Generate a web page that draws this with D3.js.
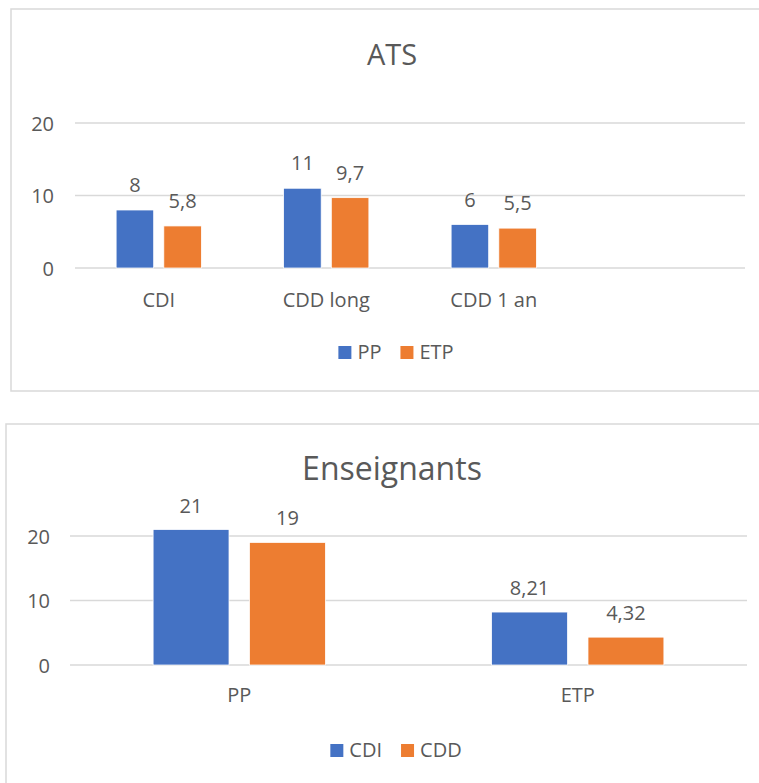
<!DOCTYPE html>
<html>
<head>
<meta charset="utf-8">
<script src="https://cdn.jsdelivr.net/npm/d3@7"></script>
<style>
  html, body { margin: 0; padding: 0; background: #fff; }
  svg { display: block; }
  text { font-family: "Open Sans", "Noto Sans", sans-serif; fill: #595959; }
</style>
</head>
<body>
<svg id="chart" width="759" height="783"></svg>
<script>
// ---- Data ----
const atsTitle = "ATS";
const atsCategories = ["CDI", "CDD long", "CDD 1 an", ""];
const atsSeries = ["PP", "ETP"];
const atsPP = [8, 11, 6];
const atsETP = [5.8, 9.7, 5.5];
const atsTicks = [0, 10, 20];

const ensTitle = "Enseignants";
const ensCategories = ["PP", "ETP"];
const ensSeries = ["CDI", "CDD"];
const ensCDI = [21, 8.21];
const ensCDD = [19, 4.32];
const ensTicks = [0, 10, 20];

const colors = ["#4472C4", "#ED7D31"];
const fmt = v => String(v).replace(".", ",");
const FS = 20;

const svg = d3.select("#chart");

function drawChart(cfg) {
  const g = svg.append("g");
  // frame
  g.append("rect")
    .attr("x", cfg.frame[0]).attr("y", cfg.frame[1])
    .attr("width", cfg.frame[2]).attr("height", cfg.frame[3])
    .attr("fill", "#fff").attr("stroke", "#D9D9D9").attr("stroke-width", 1.5);

  const y = d3.scaleLinear().domain(cfg.yDomain).range([cfg.y0, cfg.y0 - cfg.pxPerUnit * cfg.yDomain[1]]);
  const x0 = d3.scaleBand().domain(cfg.categories).range([cfg.xl, cfg.xr]).padding(0);
  const x1 = d3.scaleBand().domain(cfg.series).range([0, x0.bandwidth()])
    .paddingInner(0.27 / 1.27).paddingOuter(1.095 / 1.27);

  // gridlines
  g.append("g").selectAll("line").data(cfg.ticks).join("line")
    .attr("x1", cfg.xl).attr("x2", cfg.xr)
    .attr("y1", d => y(d)).attr("y2", d => y(d))
    .attr("stroke", "#D9D9D9").attr("stroke-width", 1.5);

  // y axis labels
  const yAxis = d3.axisLeft(y).tickValues(cfg.ticks).tickSize(0).tickPadding(0).tickFormat(fmt);
  const ya = g.append("g").attr("transform", `translate(${cfg.tickRight},0)`).call(yAxis);
  ya.select(".domain").remove();
  ya.selectAll("text").attr("font-size", FS).attr("fill", "#595959")
    .attr("font-family", '"Open Sans", sans-serif').attr("dy", "0.35em");

  // x axis labels
  const xAxis = d3.axisBottom(x0).tickSize(0).tickPadding(0);
  const xa = g.append("g").attr("transform", `translate(0,${cfg.xLabelY})`).call(xAxis);
  xa.select(".domain").remove();
  xa.selectAll("text").attr("font-size", FS).attr("fill", "#595959")
    .attr("font-family", '"Open Sans", sans-serif').attr("dy", 0);

  // bars
  const rows = [];
  cfg.values.forEach((vals, si) => {
    vals.forEach((v, ci) => rows.push({ cat: cfg.categories[ci], ser: cfg.series[si], si, v }));
  });
  g.append("g").selectAll("rect").data(rows).join("rect")
    .attr("x", d => x0(d.cat) + x1(d.ser))
    .attr("width", x1.bandwidth())
    .attr("y", d => y(d.v))
    .attr("height", d => y(0) - y(d.v))
    .attr("fill", d => colors[d.si])
    .attr("stroke", "#fff").attr("stroke-width", 0.75);

  g.append("g").selectAll("text").data(rows).join("text")
    .attr("x", d => x0(d.cat) + x1(d.ser) + x1.bandwidth() / 2)
    .attr("y", d => y(d.v) - cfg.labelGap)
    .attr("text-anchor", "middle").attr("font-size", FS)
    .text(d => fmt(d.v));

  // title
  g.append("text").attr("x", cfg.titleX).attr("y", cfg.titleY)
    .attr("text-anchor", "middle").attr("font-size", cfg.titleSize)
    .text(cfg.title);

  // legend
  const lg = g.append("g");
  let cx = 0;
  cfg.series.forEach((s, i) => {
    lg.append("rect").attr("x", cx).attr("y", cfg.legendY - 13)
      .attr("width", 13).attr("height", 13).attr("fill", colors[i]);
    const t = lg.append("text").attr("x", cx + 19).attr("y", cfg.legendY)
      .attr("font-size", FS).text(s);
    cx += 19 + t.node().getComputedTextLength() + 19;
  });
  const w = cx - 19;
  lg.attr("transform", `translate(${cfg.legendCx - w / 2},0)`);
}

drawChart({
  frame: [11, 9, 780, 382],
  title: atsTitle, titleX: 392, titleY: 65, titleSize: 29,
  categories: atsCategories, series: atsSeries, values: [atsPP, atsETP],
  ticks: atsTicks, yDomain: [0, 20], y0: 268, pxPerUnit: 7.25,
  xl: 75, xr: 745, tickRight: 54, xLabelY: 307, labelGap: 18,
  legendY: 359, legendCx: 396
});

drawChart({
  frame: [6, 424, 790, 400],
  title: ensTitle, titleX: 392, titleY: 480, titleSize: 32,
  categories: ensCategories, series: ensSeries, values: [ensCDI, ensCDD],
  ticks: ensTicks, yDomain: [0, 25], y0: 665, pxPerUnit: 6.45,
  xl: 70, xr: 747, tickRight: 50, xLabelY: 702, labelGap: 17,
  legendY: 757, legendCx: 396
});
</script>
</body>
</html>
